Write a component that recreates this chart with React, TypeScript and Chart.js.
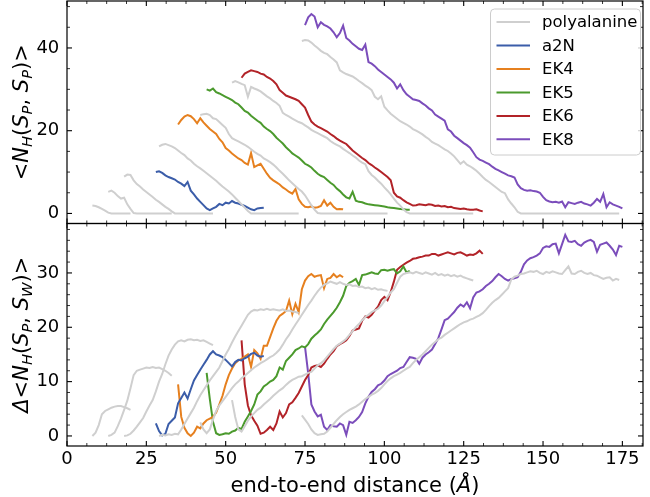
import React, { useEffect, useRef } from 'react';
import { Chart, registerables } from 'chart.js';

Chart.register(...registerables);

const FONT = "'DejaVu Sans', sans-serif";

// ---------- axis ticks ----------
const xMajorTicks = [0, 25, 50, 75, 100, 125, 150, 175];
const topMajorTicks = [0, 20, 40];
const botMajorTicks = [0, 10, 20, 30];

// ---------- series names / colours ----------
const legendLabels = ['polyalanine', 'a2N', 'EK4', 'EK5', 'EK6', 'EK8'];
const legendColors = ['#cfcfcf', '#3b5da9', '#e6801f', '#4b9a2d', '#b22328', '#7b4dbb'];

// ---------- polyalanine (7 lengths), start distance of each, 1 Å sampling ----------
const polyStarts = [8, 13, 18, 29, 42, 52, 74];

const polyTop1 = [1.9, 1.8, 1.5, 1.1, 0.7, 0.2, 0, 0, 0, 0, 0, 0, 0];
const polyTop2 = [5.2, 5.5, 5.0, 4.2, 3.6, 3.8, 2.2, 1.1, 0.1, 0, 0, 0, 0, 0, 0, 0, 0, 0, 0, 0, 0];
const polyTop3 = [8.9, 9.4, 9.3, 8.0, 7.1, 6.5, 5.8, 5.2, 4.6, 4.0, 3.3, 2.8, 2.2, 1.6, 1.1, 0.5, 0, 0, 0, 0, 0, 0, 0, 0, 0, 0, 0, 0, 0];
const polyTop4 = [16.2, 16.6, 16.8, 16.5, 16.2, 15.8, 15.2, 14.6, 14.1, 13.3, 12.8, 12.0, 11.4, 10.9, 10.3, 9.7, 9.1, 8.5, 7.9, 7.2, 6.5, 5.9, 5.3, 4.6, 3.8, 3.0, 2.2, 1.4, 0.6,
  0, 0, 0, 0, 0, 0, 0, 0, 0, 0, 0, 0, 0, 0, 0, 0];
const polyTop5 = [23.8, 24.0, 24.1, 23.8, 23.0, 22.8, 22.1, 21.4, 20.7, 19.2, 18.2, 17.8, 17.4, 17.0, 16.6, 16.1, 15.5, 14.9, 14.4, 14.0,
  13.3, 12.9, 12.4, 11.8, 11.1, 10.3, 9.6, 8.8, 8.0, 7.3, 6.6, 5.9, 5.3, 4.4, 3.2, 2.0, 0.9, 0.1,
  0, 0, 0, 0, 0, 0, 0, 0, 0, 0, 0, 0, 0, 0, 0, 0, 0, 0, 0, 0, 0, 0];
const polyTop6 = [31.6, 32.0, 31.7, 31.3, 31.0, 28.2, 30.6, 30.2, 29.9, 29.5, 28.9, 28.3, 27.8, 27.2, 26.7, 26.0, 24.3, 23.8, 23.4, 22.9,
  22.5, 22.1, 21.8, 21.3, 20.8, 20.2, 19.8, 19.4, 19.0, 18.6, 18.2, 17.5, 17.0, 16.6, 16.2, 15.6, 15.1, 14.6, 14.0, 13.5,
  12.8, 12.3, 11.9, 10.2, 9.3, 8.7, 7.9, 7.2, 6.3, 5.5, 4.6, 3.6, 2.6, 1.9, 1.0, 0.3,
  0, 0, 0, 0, 0, 0, 0, 0, 0, 0, 0, 0, 0, 0, 0, 0, 0, 0, 0, 0, 0];
const polyTop7 = [41.7, 41.9, 41.8, 41.3, 40.6, 40.0, 39.3, 38.8, 38.5, 37.8, 37.2, 36.5, 34.6, 34.1, 33.7, 33.4, 33.1, 32.6, 32.0, 31.5,
  30.9, 30.4, 29.8, 28.2, 27.6, 28.3, 25.8, 24.9, 24.1, 23.5, 22.9, 22.3, 21.9, 21.5, 21.0, 20.4, 20.0, 19.6, 19.1, 18.5,
  18.0, 17.3, 16.9, 16.5, 16.0, 15.5, 15.1, 14.5, 13.8, 12.9, 12.0, 12.6, 11.8, 11.4, 10.9, 10.3, 9.6, 8.8, 8.1, 7.6,
  7.0, 6.4, 5.8, 5.2, 4.9, 3.4, 2.4, 1.5, 0.4,
  0, 0, 0, 0, 0, 0, 0, 0, 0, 0, 0, 0, 0, 0, 0, 0, 0, 0, 0, 0, 0, 0, 0, 0, 0, 0, 0, 0, 0, 0, 0, 0];

const polyBot1 = [0, 0.6, 2.0, 4.0, 4.6, 4.9, 5.2, 5.4, 5.5, 5.5, 5.3, 5.1, 4.8];
const polyBot2 = [0, 0.2, 0.6, 1.8, 3.2, 4.8, 6.5, 8.8, 11.2, 12.0, 12.2, 12.4, 12.6, 12.5, 12.7, 12.5, 12.6, 12.3, 12.0, 11.6, 11.1];
const polyBot3 = [0, 0.1, 0.4, 1.0, 1.7, 2.5, 3.3, 4.5, 5.6, 6.6, 8.2, 10.0, 11.4, 13.2, 14.8, 15.9, 16.8, 17.4, 17.6, 17.4,
  17.7, 17.8, 17.6, 17.7, 17.5, 17.6, 17.3, 17.0, 16.7];
const polyBot4 = [0, 0.2, 0.1, 0.3, 0.2, 0.4, 0.3, 1.2, 2.2, 3.2, 4.2, 5.2, 6.4, 7.5, 8.4, 9.3, 10.2, 11.0, 11.8, 12.6,
  13.8, 15.0, 16.0, 17.2, 18.3, 19.3, 20.3, 21.3, 22.3, 22.9, 23.2, 23.1, 23.3, 23.2, 23.4, 23.2, 23.3, 23.2, 23.1, 23.3,
  23.0, 23.1, 22.9, 22.8, 22.6];
const polyBot5 = [2.5, 1.2, 0.5, 1.2, 3.0, 4.6, 5.6, 6.4, 7.2, 8.0, 8.8, 9.5, 10.0, 10.6, 11.1, 11.6, 12.1, 12.6, 13.0, 13.4,
  13.7, 14.1, 14.5, 14.8, 15.3, 15.9, 16.8, 17.8, 18.6, 19.6, 20.5, 21.4, 22.3, 23.2, 24.1, 24.9, 25.8, 26.6, 27.3, 27.8,
  28.1, 28.4, 28.2, 28.0, 28.3, 28.0, 27.8, 27.9, 27.6, 27.7, 27.4, 27.5, 27.2, 27.3, 27.0, 27.2, 26.9, 27.0, 26.8, 26.7];
const polyBot6 = [6.6, 3.5, 1.2, 0.8, 1.8, 2.8, 3.6, 4.2, 4.8, 5.2, 5.8, 6.3, 6.8, 7.4, 7.9, 8.4, 8.8, 9.4, 9.9, 10.3,
  10.6, 10.9, 11.0, 11.3, 11.6, 11.8, 12.4, 13.0, 13.4, 13.9, 14.6, 15.3, 16.0, 16.6, 17.0, 17.4, 17.9, 18.6, 19.3, 20.0,
  20.6, 21.3, 21.9, 22.3, 22.8, 23.1, 23.4, 24.0, 24.8, 25.6, 26.4, 27.0, 28.2, 29.3, 29.8, 30.0, 30.1, 29.9, 30.2, 30.0,
  29.8, 30.1, 29.9, 29.7, 30.0, 29.6, 29.8, 29.5, 29.7, 29.4, 29.6, 29.3, 29.5, 29.2, 29.0, 28.8, 28.6];
const polyBot7 = [3.8, 3.0, 2.2, 1.2, 0.5, 0.2, 0.3, 0.4, 0.8, 1.5, 2.2, 2.9, 3.5, 4.0, 4.4, 4.8, 5.1, 5.4, 5.8, 6.3,
  6.8, 7.2, 7.6, 7.9, 8.3, 8.8, 9.5, 10.1, 10.6, 11.0, 11.3, 11.6, 12.0, 12.4, 12.7, 13.4, 14.0, 14.5, 15.0, 15.6,
  16.2, 16.8, 17.3, 17.8, 18.1, 18.6, 19.0, 19.4, 19.8, 20.2, 20.6, 20.9, 21.1, 21.4, 21.6, 21.9, 22.2, 22.6, 23.2, 23.9,
  24.5, 25.0, 25.4, 26.0, 26.6, 27.2, 28.8, 29.3, 29.5, 29.8, 29.9, 30.1, 30.3, 30.2, 30.4, 30.0, 29.8, 30.2, 30.0, 30.3,
  30.1, 29.9, 29.8, 30.5, 31.2, 29.9, 29.8, 30.2, 30.4, 30.0, 29.8, 30.0, 29.6, 29.5, 29.2, 28.9, 29.1, 29.2, 28.6, 28.9, 28.7];

// ---------- peptides ----------
const a2nStart = 28;
const a2nTop = [10.0, 10.2, 9.8, 9.2, 8.8, 8.5, 8.2, 7.6, 7.2, 6.6, 7.6, 5.5, 4.6, 3.6, 2.8, 2.0, 1.2, 0.8, 1.2, 1.6,
  2.3, 2.0, 2.6, 2.4, 3.0, 2.6, 2.4, 2.1, 1.8, 1.4, 1.0, 0.8, 1.2, 1.3, 1.4];
const a2nBot = [2.3, 0.9, 0.1, 0.4, 2.2, 2.8, 3.4, 6.0, 7.0, 8.0, 6.9, 8.6, 10.2, 11.2, 12.2, 13.1, 14.0, 15.0, 15.6, 15.0,
  14.8, 14.5, 14.0, 13.4, 12.8, 13.6, 14.0, 13.9, 14.3, 14.6, 15.1, 15.3, 14.8, 14.6, 14.7];

const ek4Start = 35;
const ek4Top = [21.5, 22.6, 23.4, 23.8, 23.5, 22.8, 21.8, 23.0, 22.0, 21.2, 20.4, 19.8, 19.2, 18.0, 17.2, 15.8, 15.2, 14.5, 13.9, 13.3,
  12.9, 12.2, 11.8, 14.6, 11.2, 11.6, 12.0, 10.8, 9.6, 8.6, 8.0, 7.5, 7.0, 6.3, 5.8, 5.2, 4.8, 5.9, 3.4, 2.3,
  1.6, 1.5, 1.7, 1.4, 1.5, 1.8, 3.2, 1.9, 2.6, 1.6, 1.0, 1.1, 1.0];
const ek4Bot = [9.5, 3.5, 1.5, 0.5, 0.0, 0.6, 1.7, 1.4, 2.3, 2.9, 3.2, 3.5, 4.3, 5.8, 7.4, 9.5, 11.2, 12.4, 13.4, 13.9,
  14.2, 14.6, 15.0, 12.7, 15.8, 15.2, 14.2, 16.6, 16.6, 18.2, 19.8, 21.2, 22.1, 22.5, 23.0, 24.9, 22.4, 24.3, 22.8, 27.0,
  28.6, 29.4, 29.8, 29.3, 29.5, 29.6, 27.2, 28.9, 29.1, 29.8, 29.2, 29.6, 29.2];

const ek5Start = 44;
const ek5Top = [30.0, 29.7, 30.2, 29.3, 29.0, 28.6, 28.2, 27.8, 27.4, 26.8, 26.4, 25.6, 24.8, 24.4, 23.6, 23.0, 22.4, 21.9, 21.0, 20.4,
  19.9, 19.2, 18.3, 17.6, 16.9, 16.0, 15.3, 14.5, 14.0, 13.5, 12.8, 12.0, 11.6, 11.1, 10.3, 9.6, 9.1, 8.8, 8.1, 7.4,
  6.9, 6.0, 5.4, 4.6, 3.9, 3.6, 5.2, 3.1, 2.8, 2.7, 2.4, 2.2, 2.1, 2.0, 1.9, 1.8, 1.7, 1.5, 1.4, 1.3,
  1.2, 1.1, 1.0, 0.9, 0.9];
const ek5Bot = [11.6, 6.8, 2.6, 0.5, 0.2, 0.3, 0.5, 0.4, 0.8, 1.0, 1.5, 1.3, 2.6, 3.6, 4.6, 5.8, 7.6, 8.2, 9.1, 9.5,
  10.0, 10.3, 11.0, 12.6, 12.2, 13.8, 14.4, 15.0, 15.8, 16.1, 16.5, 16.3, 16.9, 17.9, 18.5, 19.0, 19.6, 20.6, 21.4, 22.1,
  22.8, 23.6, 24.6, 25.8, 27.6, 28.2, 28.5, 28.9, 27.8, 29.6, 29.7, 29.9, 30.1, 29.9, 29.8, 30.5, 30.6, 30.4, 30.6, 30.7,
  29.9, 30.3, 31.2, 30.1, 30.4];

const ek6Start = 55;
const ek6Top = [32.8, 33.8, 34.2, 34.6, 34.4, 34.2, 33.8, 33.6, 33.0, 32.6, 32.0, 31.2, 29.8, 29.2, 28.5, 28.2, 27.9, 27.6, 27.2, 26.4,
  25.6, 23.8, 22.2, 21.5, 21.0, 20.6, 20.2, 19.8, 19.2, 18.7, 18.1, 17.6, 17.2, 16.8, 16.0, 15.2, 14.6, 14.0, 13.4, 12.9,
  12.2, 11.7, 11.1, 10.6, 10.0, 9.4, 8.8, 8.0, 5.0, 4.1, 3.8, 3.2, 2.7, 2.3, 1.9, 2.0, 2.2, 2.1, 2.0, 2.2,
  2.1, 1.8, 1.9, 1.7, 1.8, 1.5, 1.6, 1.3, 1.2, 1.1, 1.2, 1.0, 0.9, 0.9, 1.0, 0.7, 0.5];
const ek6Bot = [17.6, 9.5, 5.6, 3.8, 2.8, 1.9, 0.4, 0.6, 1.1, 1.7, 1.1, 2.3, 4.5, 3.4, 4.2, 5.8, 6.2, 7.0, 7.9, 9.1,
  10.3, 11.2, 12.6, 12.9, 13.0, 12.7, 13.3, 14.2, 15.0, 15.6, 16.5, 16.9, 17.2, 17.6, 18.4, 19.4, 19.6, 19.8, 21.2, 22.0,
  21.8, 22.3, 23.1, 23.8, 25.0, 25.6, 25.0, 26.5, 28.4, 30.6, 31.1, 31.5, 31.9, 32.2, 32.6, 32.7, 32.9, 33.0, 33.2, 33.2,
  33.5, 33.5, 33.2, 33.4, 33.6, 33.8, 33.6, 33.4, 33.7, 33.8, 33.5, 33.2, 33.4, 33.3, 33.6, 34.1, 33.5];

const ek8Start = 75;
const ek8Top = [45.5, 47.4, 48.2, 47.6, 45.0, 46.2, 45.6, 45.2, 44.7, 43.8, 42.6, 43.6, 45.4, 42.4, 41.8, 41.0, 40.4, 39.8, 39.5, 40.8,
  36.6, 36.2, 35.6, 34.8, 34.2, 33.6, 33.0, 32.4, 31.6, 30.2, 31.2, 29.8, 28.8, 28.2, 27.6, 27.4, 27.2, 26.6, 26.1, 25.4,
  24.9, 23.9, 23.4, 22.9, 22.4, 20.3, 19.8, 18.8, 18.2, 17.6, 17.0, 16.5, 15.9, 14.8, 13.6, 13.0, 12.7, 12.3, 11.9, 11.3,
  10.8, 10.4, 10.0, 9.6, 9.2, 9.0, 8.7, 7.0, 6.1, 5.7, 5.5, 5.6, 5.4, 5.3, 5.0, 4.0, 3.2, 2.9, 2.7, 2.8,
  2.6, 2.9, 1.5, 2.7, 2.5, 2.3, 2.6, 2.8, 2.4, 2.2, 1.9, 2.6, 3.5, 2.8, 4.7, 1.5, 2.7, 2.2, 1.9, 1.6, 1.2];
const ek8Bot = [16.4, 11.5, 5.8, 4.5, 3.6, 3.9, 1.7, 1.1, 2.0, 1.8, 1.7, 2.3, 2.0, 0.2, 2.6, 2.4, 2.9, 3.5, 4.4, 6.0,
  7.2, 8.1, 8.6, 9.3, 9.6, 10.2, 11.0, 11.4, 11.7, 12.0, 12.5, 12.7, 13.6, 14.5, 14.4, 14.2, 13.3, 14.4, 15.0, 15.4,
  15.9, 16.9, 18.0, 19.6, 21.3, 21.6, 22.2, 22.8, 23.6, 24.2, 23.8, 24.6, 23.5, 25.5, 26.4, 26.6, 27.0, 27.6, 28.0, 28.5,
  29.2, 29.8, 29.4, 28.9, 28.6, 28.9, 29.0, 29.2, 30.2, 31.6, 32.3, 32.7, 32.9, 33.2, 33.6, 34.6, 34.9, 34.8, 35.3, 35.4,
  33.6, 35.3, 37.0, 35.8, 35.7, 35.9, 35.3, 35.0, 35.6, 35.9, 36.1, 35.7, 33.9, 35.2, 35.4, 35.6, 35.0, 34.3, 33.3, 35.0, 34.8];

// ---------- helpers ----------
const X_STEP = 1; // Å between samples
function pts(x0: number, ys: number[]) {
  return ys.map((y, i) => ({ x: x0 + i * X_STEP, y }));
}

type Part = { t: string; it?: boolean; sub?: boolean };
const topLabel: Part[] = [
  { t: '<' }, { t: 'N', it: true }, { t: 'H', it: true, sub: true }, { t: '(' }, { t: 'S', it: true }, { t: 'P', it: true, sub: true },
  { t: ', ' }, { t: 'S', it: true }, { t: 'P', it: true, sub: true }, { t: ')' }, { t: '>' },
];
const botLabel: Part[] = [
  { t: 'Δ', it: true }, { t: '<' }, { t: 'N', it: true }, { t: 'H', it: true, sub: true }, { t: '(' }, { t: 'S', it: true }, { t: 'P', it: true, sub: true },
  { t: ', ' }, { t: 'S', it: true }, { t: 'W', it: true, sub: true }, { t: ')' }, { t: '>' },
];
const xLabel: Part[] = [{ t: 'end-to-end distance (' }, { t: 'Å', it: true }, { t: ')' }];

function drawRich(ctx: CanvasRenderingContext2D, parts: Part[], size: number, cx: number, cy: number, rot: number) {
  const fontOf = (p: Part) => `${p.it ? 'italic ' : ''}${p.sub ? size * 0.7 : size}px ${FONT}`;
  let W = 0;
  const widths = parts.map((p) => {
    ctx.font = fontOf(p);
    const w = ctx.measureText(p.t).width;
    W += w;
    return w;
  });
  ctx.save();
  ctx.translate(cx, cy);
  ctx.rotate(rot);
  ctx.textBaseline = 'alphabetic';
  ctx.textAlign = 'left';
  ctx.fillStyle = '#000';
  let x = -W / 2;
  parts.forEach((p, i) => {
    ctx.font = fontOf(p);
    ctx.fillText(p.t, x, p.sub ? size * 0.22 : 0);
    x += widths[i];
  });
  ctx.restore();
}

const framePlugin = {
  id: 'frame',
  afterDraw(chart: any) {
    const ctx: CanvasRenderingContext2D = chart.ctx;
    const xs = chart.scales.x;
    const yt = chart.scales.yTop;
    const yb = chart.scales.yBot;
    const L = chart.chartArea.left;
    const R = chart.chartArea.right;
    ctx.save();
    ctx.strokeStyle = '#000';
    const line = (x1: number, y1: number, x2: number, y2: number, w: number) => {
      ctx.lineWidth = w;
      ctx.beginPath();
      ctx.moveTo(x1, y1);
      ctx.lineTo(x2, y2);
      ctx.stroke();
    };
    const MAJ = 5, MIN = 3;
    const xMinorStep = 6.25;
    const panels: [any, number[], number][] = [[yt, topMajorTicks, 5], [yb, botMajorTicks, 2]];
    panels.forEach(([ys, majors, minorStep]) => {
      const T = ys.top, B = ys.bottom;
      for (let v = Math.ceil(ys.min / minorStep) * minorStep; v <= ys.max; v += minorStep) {
        const isMaj = majors.includes(Math.round(v * 1000) / 1000);
        const p = ys.getPixelForValue(v);
        const len = isMaj ? MAJ : MIN;
        const w = isMaj ? 1.1 : 0.8;
        line(L, p, L + len, p, w);
        line(R, p, R - len, p, w);
      }
      for (let v = 0; v <= xs.max; v += xMinorStep) {
        const isMaj = xMajorTicks.includes(v);
        const p = xs.getPixelForValue(v);
        const len = isMaj ? MAJ : MIN;
        const w = isMaj ? 1.1 : 0.8;
        line(p, B, p, B - len, w);
        line(p, T, p, T + len, w);
      }
      ctx.lineWidth = 1.2;
      ctx.strokeRect(L, T, R - L, B - T);
    });
    ctx.restore();

    // axis titles
    drawRich(ctx, topLabel, 21, 27.5, (yt.top + yt.bottom) / 2, -Math.PI / 2);
    drawRich(ctx, botLabel, 21, 27.5, (yb.top + yb.bottom) / 2, -Math.PI / 2);
    drawRich(ctx, xLabel, 21, (L + R) / 2, 491.5, 0);

    // legend
    const bx = R - 152.5, by = yt.top + 8, bw = 150, bh = 146;
    ctx.save();
    ctx.fillStyle = 'rgba(255,255,255,0.8)';
    ctx.strokeStyle = '#cccccc';
    ctx.lineWidth = 1;
    ctx.beginPath();
    (ctx as any).roundRect(bx, by, bw, bh, 4);
    ctx.fill();
    ctx.stroke();
    ctx.font = `16.5px ${FONT}`;
    ctx.textBaseline = 'middle';
    ctx.textAlign = 'left';
    legendLabels.forEach((lab, i) => {
      const ry = by + 13 + i * 23.47;
      ctx.strokeStyle = legendColors[i];
      ctx.lineWidth = 2;
      ctx.beginPath();
      ctx.moveTo(bx + 6, ry);
      ctx.lineTo(bx + 39.5, ry);
      ctx.stroke();
      ctx.fillStyle = '#000';
      ctx.fillText(lab, bx + 51.5, ry + 1);
    });
    ctx.restore();
  },
};

export default function App() {
  const ref = useRef<HTMLCanvasElement | null>(null);
  useEffect(() => {
    document.body.style.margin = '0';
    const canvas = ref.current;
    if (!canvas) return;

    const polyTop = [polyTop1, polyTop2, polyTop3, polyTop4, polyTop5, polyTop6, polyTop7];
    const polyBot = [polyBot1, polyBot2, polyBot3, polyBot4, polyBot5, polyBot6, polyBot7];
    const peptides = [
      { start: a2nStart, top: a2nTop, bot: a2nBot, color: legendColors[1] },
      { start: ek4Start, top: ek4Top, bot: ek4Bot, color: legendColors[2] },
      { start: ek5Start, top: ek5Top, bot: ek5Bot, color: legendColors[3] },
      { start: ek6Start, top: ek6Top, bot: ek6Bot, color: legendColors[4] },
      { start: ek8Start, top: ek8Top, bot: ek8Bot, color: legendColors[5] },
    ];

    const base = { showLine: true, pointRadius: 0, borderWidth: 2, fill: false, tension: 0 };
    const datasets: any[] = [];
    polyTop.forEach((ys, i) => {
      datasets.push({ ...base, data: pts(polyStarts[i], ys), borderColor: legendColors[0], yAxisID: 'yTop' });
      datasets.push({ ...base, data: pts(polyStarts[i], polyBot[i]), borderColor: legendColors[0], yAxisID: 'yBot' });
    });
    peptides.forEach((p) => {
      datasets.push({ ...base, data: pts(p.start, p.top), borderColor: p.color, yAxisID: 'yTop' });
      datasets.push({ ...base, data: pts(p.start, p.bot), borderColor: p.color, yAxisID: 'yBot' });
    });

    const tickFont = { family: FONT, size: 18 };
    const yCommon = {
      type: 'linear',
      position: 'left',
      stack: 'panels',
      stackWeight: 1,
      grid: { display: false, drawTicks: false },
      border: { display: false },
      ticks: { font: tickFont, color: '#000', padding: 7.7 },
      afterFit: (s: any) => { s.width = 67; s.paddingTop = 0; s.paddingBottom = 0; },
    };

    const chart = new Chart(canvas, {
      type: 'scatter',
      data: { datasets },
      options: {
        animation: false,
        responsive: false,
        devicePixelRatio: 1,
        layout: { padding: { top: 1, right: 7, left: 0, bottom: 0 } },
        plugins: { legend: { display: false }, tooltip: { enabled: false } },
        scales: {
          x: {
            type: 'linear',
            position: 'bottom',
            min: 0,
            max: 181.5,
            grid: { display: false, drawTicks: false },
            border: { display: false },
            ticks: { font: tickFont, color: '#000', padding: 3, maxRotation: 0 },
            afterBuildTicks: (s: any) => { s.ticks = xMajorTicks.map((v) => ({ value: v })); },
            afterFit: (s: any) => { s.height = 51; s.paddingLeft = 0; s.paddingRight = 0; },
          },
          yBot: {
            ...yCommon,
            min: -1.85,
            max: 39.1,
            afterBuildTicks: (s: any) => { s.ticks = botMajorTicks.map((v) => ({ value: v })); },
          },
          yTop: {
            ...yCommon,
            min: -2.43,
            max: 51.35,
            afterBuildTicks: (s: any) => { s.ticks = topMajorTicks.map((v) => ({ value: v })); },
          },
        },
      } as any,
      plugins: [framePlugin],
    });
    return () => chart.destroy();
  }, []);

  return (
    <div style={{ width: 650, height: 497 }}>
      <canvas ref={ref} width={650} height={497} style={{ display: 'block', width: 650, height: 497 }} />
    </div>
  );
}
